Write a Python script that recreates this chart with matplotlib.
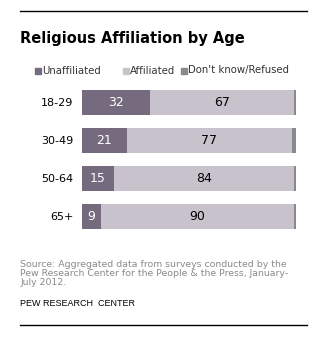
import matplotlib.pyplot as plt
from matplotlib.lines import Line2D
from matplotlib.patches import Rectangle

ages = ["18-29", "30-49", "50-64", "65+"]
unaffiliated = [32, 21, 15, 9]
affiliated = [67, 77, 84, 90]
dont_know = [1, 2, 1, 1]

c_unaff = "#766a7e"
c_aff = "#c8c2cc"
c_dk = "#8a8a8a"

W, H = 330, 339


def fx(px):
    return px / W


def fy(py):
    return 1 - py / H


def main():
    plt.rcParams['font.family'] = ['DejaVu Sans']
    fig = plt.figure(figsize=(W / 100, H / 100), dpi=100)
    fig.patch.set_facecolor("white")

    # rules at top and bottom
    fig.add_artist(Line2D([fx(20), fx(307)], [fy(10.5), fy(10.5)], color="black", lw=1.0))
    fig.add_artist(Line2D([fx(20), fx(307)], [fy(325), fy(325)], color="black", lw=1.0))

    fig.text(fx(20), fy(39), "Religious Affiliation by Age", fontsize=10.5, fontweight="bold",
             va="center", ha="left")

    # legend
    items = [("Unaffiliated", c_unaff, 35), ("Affiliated", c_aff, 123), ("Don't know/Refused", c_dk, 181)]
    for name, col, x0 in items:
        fig.add_artist(Rectangle((fx(x0), fy(74)), fx(6), 6 / H, color=col, transform=fig.transFigure))
        fig.text(fx(x0 + 7), fy(70.5), name, fontsize=7.3, color="#333333", va="center", ha="left")

    # bars
    ax = fig.add_axes([fx(82), fy(235.3), fx(214), (235.3 - 83.3) / H])
    y = range(len(ages))
    h = 25 / 38
    left2 = [u + a for u, a in zip(unaffiliated, affiliated)]
    ax.barh(y, unaffiliated, height=h, color=c_unaff)
    ax.barh(y, affiliated, left=unaffiliated, height=h, color=c_aff)
    ax.barh(y, dont_know, left=left2, height=h, color=c_dk)
    for i in y:
        ax.text(unaffiliated[i] / 2, i, str(unaffiliated[i]), color="white", fontsize=9,
                ha="center", va="center")
        ax.text(unaffiliated[i] + affiliated[i] / 2, i, str(affiliated[i]), color="black",
                fontsize=9, ha="center", va="center")
    ax.set_xlim(0, 100)
    ax.set_ylim(len(ages) - 0.5, -0.5)
    ax.set_yticks(list(y))
    ax.set_yticklabels(ages, fontsize=8)
    ax.tick_params(axis="y", length=0, pad=6)
    ax.set_xticks([])
    for s in ax.spines.values():
        s.set_visible(False)

    src = ("Source: Aggregated data from surveys conducted by the\n"
           "Pew Research Center for the People & the Press, January-\n"
           "July 2012.")
    fig.text(fx(20.5), fy(260), src, fontsize=6.75, color="#8a8a8a", va="top", ha="left",
             linespacing=1.0)
    fig.text(fx(20.5), fy(304), "PEW RESEARCH  CENTER", fontsize=6.5, color="black",
             va="center", ha="left", family="Liberation Sans")

    fig.savefig("out.png", dpi=100)


if __name__ == '__main__':
    main()
